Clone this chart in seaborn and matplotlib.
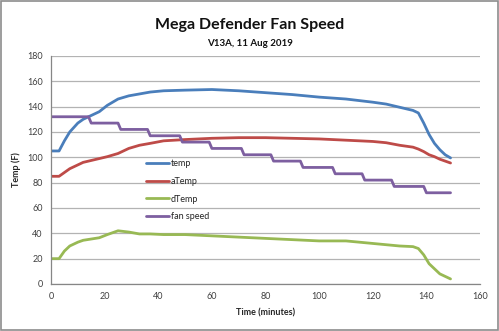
import matplotlib
matplotlib.use("Agg")
import matplotlib.pyplot as plt
from matplotlib.patches import Rectangle
import seaborn as sns
import numpy as np

# Sample times (minutes) for the temperature series
time_min = [0, 3, 5, 7, 10, 12, 15, 18, 21, 25, 29, 33, 37, 42, 50, 60, 70,
            80, 90, 100, 110, 120, 125, 130, 135, 137, 139, 141, 143, 145, 147, 149]
temp = [105, 105, 113, 120, 127, 130, 133, 136, 141, 146, 148.5, 150, 151.5,
        152.5, 153, 153.5, 152.5, 151, 149.5, 147.5, 146, 143.5, 142, 139.5,
        137, 135, 127, 118, 111, 106, 102, 99.5]
a_temp = [85, 85, 88, 91, 94, 96, 97.5, 99, 100.5, 103, 107, 109.5, 111,
          113, 114, 115, 115.5, 115.5, 115, 114.5, 113.5, 112.5, 111.5, 109.5,
          108, 106.5, 104.5, 102, 100.5, 98.5, 97, 95.5]
d_temp = [20, 20, 26, 30, 33, 34.5, 35.5, 36.5, 39, 42, 41, 39.5, 39.5,
          39, 39, 38, 37, 36, 35, 34, 34, 32, 31, 30, 29.5, 28, 23, 16, 12,
          8, 6, 4]

# Fan speed setting: held levels with one-minute transitions
fan_time = [0, 14, 15, 25, 26, 36, 37, 48, 49, 59, 60, 71, 72, 82, 83, 93, 94,
            105, 106, 116, 117, 127, 128, 139, 140, 149]
fan_speed = [132, 132, 127, 127, 122, 122, 117, 117, 112, 112, 107, 107, 102,
             102, 97, 97, 92, 92, 87, 87, 82, 82, 77, 77, 72, 72]

series_names = ["temp", "aTemp", "dTemp", "fan speed"]
colors = ["#4A7EBB", "#BE4B48", "#98B954", "#7D5FA0"]

x_ticks = np.arange(0, 161, 20)
y_ticks = np.arange(0, 181, 20)

sns.set_theme(style="white")
plt.rcParams["font.family"] = ["Lato", "DejaVu Sans"]

fig = plt.figure(figsize=(4.99, 3.31), dpi=100)
ax = fig.add_axes([0.1022, 0.142, 0.8598, 0.689])

for xs, ys, name, c in [(time_min, temp, series_names[0], colors[0]),
                        (time_min, a_temp, series_names[1], colors[1]),
                        (time_min, d_temp, series_names[2], colors[2]),
                        (fan_time, fan_speed, series_names[3], colors[3])]:
    sns.lineplot(x=xs, y=ys, ax=ax, color=c, linewidth=2.0, label=name,
                 estimator=None, sort=False)

ax.set_xlim(0, 160)
ax.set_ylim(0, 180)
ax.set_xticks(x_ticks)
ax.set_yticks(y_ticks)
ax.tick_params(axis="both", labelsize=6.5, colors="#404040", length=3,
               width=0.8, direction="out", pad=3)
ax.tick_params(axis="x", color="#868686")
ax.tick_params(axis="y", color="#868686")
ax.grid(axis="y", color="#b3b3b3", linewidth=0.9)
ax.set_axisbelow(True)
for side in ["top", "right"]:
    ax.spines[side].set_visible(False)
for side in ["left", "bottom"]:
    ax.spines[side].set_color("#868686")
    ax.spines[side].set_linewidth(0.9)

ax.set_xlabel("Time (minutes)", fontsize=6.5, fontweight="bold", color="#262626", labelpad=5)
ax.set_ylabel("Temp (F)", fontsize=6.5, fontweight="bold", color="#262626", labelpad=4)

fig.text(0.5, 0.925, "Mega Defender Fan Speed", ha="center", va="center",
         fontsize=11.5, fontweight="bold", color="#111111")
fig.text(0.5, 0.868, "V13A, 11 Aug 2019", ha="center", va="center",
         fontsize=7, fontweight="bold", color="#111111")

leg = ax.legend(loc="upper left", bbox_to_anchor=(0.283, 0.532),
                bbox_transform=fig.transFigure, frameon=False, fontsize=6.5,
                handlelength=2.6, handletextpad=0.2, labelspacing=0.95,
                borderpad=0)
for t in leg.get_texts():
    t.set_color("#262626")

fig.patches.append(Rectangle((0.002, 0.003), 0.995, 0.994, transform=fig.transFigure,
                             fill=False, edgecolor="#8c8c8c", linewidth=1.2))

fig.savefig("out.png", dpi=100)
